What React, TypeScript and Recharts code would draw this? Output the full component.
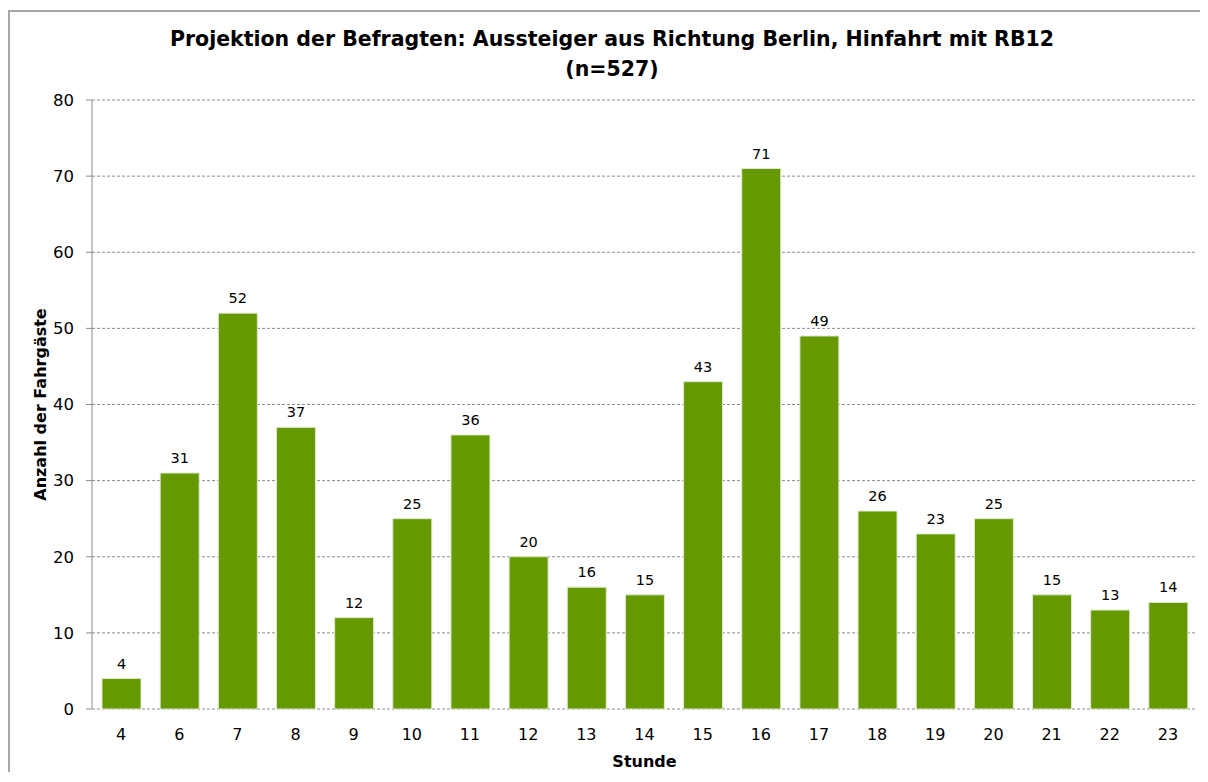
import React from "react";
import { BarChart, Bar, XAxis, YAxis, CartesianGrid, LabelList } from "recharts";

const hours = ["4", "6", "7", "8", "9", "10", "11", "12", "13", "14", "15", "16", "17", "18", "19", "20", "21", "22", "23"];
const passengers = [4, 31, 52, 37, 12, 25, 36, 20, 16, 15, 43, 71, 49, 26, 23, 25, 15, 13, 14];
const yTicks = [0, 10, 20, 30, 40, 50, 60, 70, 80];
const edgeTicks = Array.from({ length: hours.length + 1 }, (_, i) => i);

const titleLine1 = "Projektion der Befragten: Aussteiger aus Richtung Berlin, Hinfahrt mit RB12";
const titleLine2 = "(n=527)";

const data = hours.map((h, i) => ({ hour: h, value: passengers[i] }));

const FONT = "'DejaVu Sans', Verdana, sans-serif";

export default function App() {
  return (
    <div
      style={{
        position: "relative",
        marginTop: 2,
        width: 1200,
        height: 762,
        borderTop: "2px solid #a6a6a6",
        borderLeft: "2px solid #a6a6a6",
        fontFamily: FONT,
        overflow: "hidden",
        boxSizing: "border-box",
      }}
    >
      <style>{"html,body{overflow:hidden;}"}</style>
      <div
        style={{
          position: "absolute",
          left: 0,
          width: 1204,
          top: 12,
          textAlign: "center",
          fontWeight: "bold",
          fontSize: 20.5,
          lineHeight: "30px",
          color: "#000",
        }}
      >
        <div>{titleLine1}</div>
        <div>{titleLine2}</div>
      </div>
      <BarChart
        width={1196}
        height={768}
        data={data}
        margin={{ top: 88, right: 9, bottom: 11, left: 12 }}
        barSize={39}
      >
        <CartesianGrid vertical={false} stroke="#8c8c8c" strokeDasharray="3 2" />
        <XAxis
          xAxisId="edges"
          type="number"
          domain={[0, hours.length]}
          ticks={edgeTicks}
          allowDataOverflow
          height={0}
          tickSize={6}
          tick={() => <g />}
          tickLine={{ stroke: "#8c8c8c" }}
          axisLine={{ stroke: "#8c8c8c" }}
        />
        <XAxis
          xAxisId="cat"
          dataKey="hour"
          type="category"
          height={60}
          tickLine={false}
          axisLine={false}
          tickSize={6}
          tickMargin={14}
          interval={0}
          tick={{ fill: "#000", fontSize: 16, fontFamily: FONT }}
          label={{
            value: "Stunde",
            position: "insideBottom",
            offset: 2,
            style: { fontWeight: "bold", fontSize: 16, fill: "#000", fontFamily: FONT },
          }}
        />
        <YAxis
          width={70}
          domain={[0, 80]}
          ticks={yTicks}
          interval={0}
          tickSize={6}
          tickMargin={12}
          tickLine={{ stroke: "#8c8c8c" }}
          axisLine={{ stroke: "#8c8c8c" }}
          tick={{ fill: "#000", fontSize: 16.5, fontFamily: FONT }}
          label={{
            value: "Anzahl der Fahrgäste",
            angle: -90,
            position: "insideLeft",
            offset: 18,
            style: { textAnchor: "middle", fontWeight: "bold", fontSize: 16, fill: "#000", fontFamily: FONT },
          }}
        />
        <Bar
          xAxisId="cat"
          dataKey="value"
          fill="#669900"
          stroke="#dfe9cf"
          strokeWidth={1}
          isAnimationActive={false}
        >
          <LabelList
            dataKey="value"
            position="top"
            offset={10}
            style={{ fill: "#000", fontSize: 14.5, fontFamily: FONT }}
          />
        </Bar>
      </BarChart>
    </div>
  );
}
